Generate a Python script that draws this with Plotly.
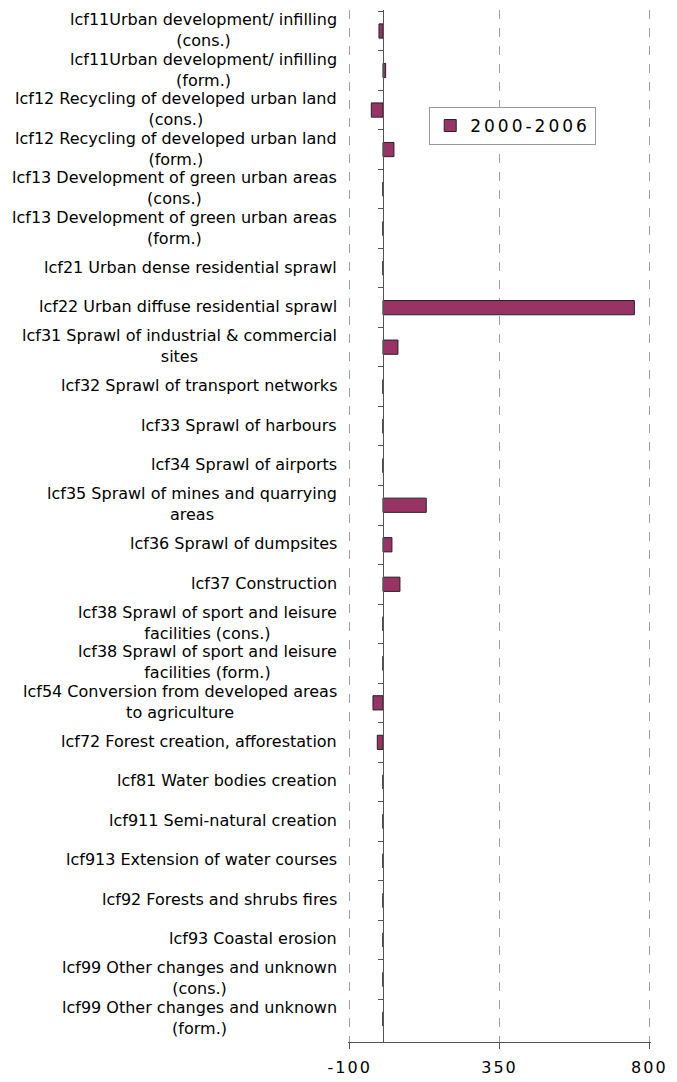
import plotly.graph_objects as go

categories = [
    "lcf11Urban development/ infilling<br>(cons.)",
    "lcf11Urban development/ infilling<br>(form.)",
    "lcf12 Recycling of developed urban land<br>(cons.)",
    "lcf12 Recycling of developed urban land<br>(form.)",
    "lcf13 Development of green urban areas<br>(cons.)",
    "lcf13 Development of green urban areas<br>(form.)",
    "lcf21 Urban dense residential sprawl",
    "lcf22 Urban diffuse residential sprawl",
    "lcf31 Sprawl of industrial & commercial<br>sites",
    "lcf32 Sprawl of transport networks",
    "lcf33 Sprawl of harbours",
    "lcf34 Sprawl of airports",
    "lcf35 Sprawl of mines and quarrying<br>areas",
    "lcf36 Sprawl of dumpsites",
    "lcf37 Construction",
    "lcf38 Sprawl of sport and leisure<br>facilities (cons.)",
    "lcf38 Sprawl of sport and leisure<br>facilities (form.)",
    "lcf54 Conversion from developed areas<br>to agriculture",
    "lcf72 Forest creation, afforestation",
    "lcf81 Water bodies creation",
    "lcf911 Semi-natural creation",
    "lcf913 Extension of water courses",
    "lcf92 Forests and shrubs fires",
    "lcf93 Coastal erosion",
    "lcf99 Other changes and unknown<br>(cons.)",
    "lcf99 Other changes and unknown<br>(form.)",
]
values_2000_2006 = [-12, 8, -35, 33, 0, 0, 0, 755, 45, 0, 0, 0, 130, 27, 51,
                    0, 0, -30, -17, 0, 0, 0, 0, 0, 0, 0]
series_name = "2000-2006"
x_ticks = [-100, 350, 800]
x_range = [-105, 805]

FONT = "DejaVu Sans, Verdana, sans-serif"

def spaced(s, px):
    return f'<span style="letter-spacing:{px}px">{s}</span>'

fig = go.Figure()
fig.add_trace(go.Bar(
    y=categories,
    x=values_2000_2006,
    orientation="h",
    name=spaced(series_name, 3),
    marker=dict(color="#993366", line=dict(color="#222222", width=1)),
    width=0.36,
    showlegend=True,
))

annotations = []
for c in categories:
    annotations.append(dict(
        x=0, xref="paper", y=c, yref="y",
        text=c, showarrow=False,
        xanchor="right", yanchor="middle", align="center",
        xshift=-9, yshift=1,
        font=dict(family=FONT, size=16, color="#000000"),
    ))

fig.update_layout(
    width=669, height=1074,
    margin=dict(l=340, r=26, t=2, b=40),
    paper_bgcolor="white", plot_bgcolor="white",
    font=dict(family=FONT, color="#000000"),
    annotations=annotations,
    legend=dict(
        x=0.268, y=0.906, xanchor="left", yanchor="top",
        bordercolor="#999999", borderwidth=1, bgcolor="white",
        font=dict(family=FONT, size=17, color="#000000"),
        itemwidth=30,
    ),
    xaxis=dict(
        range=x_range, tickvals=x_ticks,
        ticktext=[spaced(str(v), 2) for v in x_ticks],
        showgrid=True, gridcolor="#a0a0a0", griddash="dash", gridwidth=1,
        zeroline=False, showline=True, linecolor="#555555", linewidth=1,
        ticks="outside", ticklen=6, tickcolor="#555555",
        ticklabelstandoff=5,
        tickfont=dict(family=FONT, size=16, color="#000000"),
        fixedrange=True,
    ),
    yaxis=dict(
        categoryorder="array", categoryarray=categories,
        autorange="reversed",
        anchor="free", position=(0 - x_range[0]) / (x_range[1] - x_range[0]),
        showticklabels=False, showgrid=False, zeroline=False,
        showline=True, linecolor="#555555", linewidth=1,
        ticks="outside", ticklen=5, tickcolor="#555555",
        tickson="boundaries",
    ),
    bargap=0.64,
)

fig.write_html("out.html")
